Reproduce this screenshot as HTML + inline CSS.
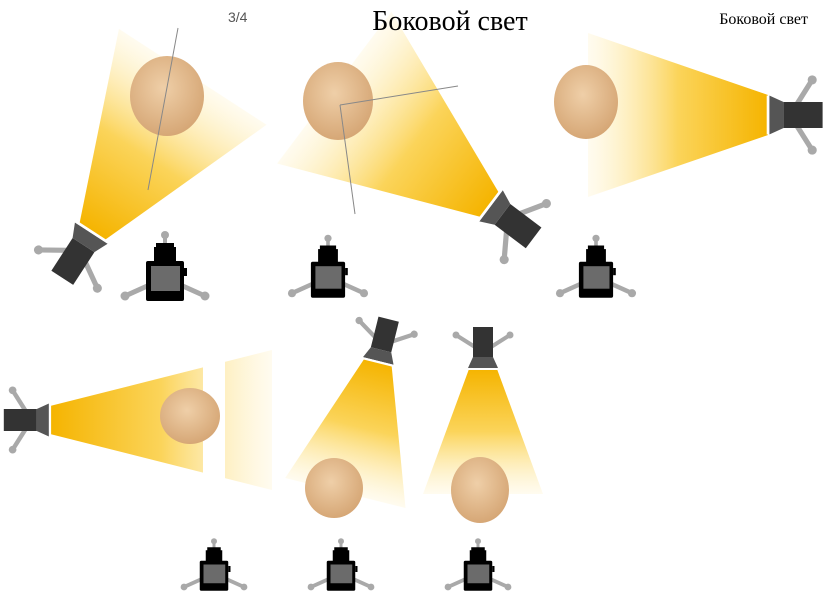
<!DOCTYPE html>
<html><head><meta charset="utf-8"><style>
html,body{margin:0;padding:0;background:#fff;}
svg{display:block}
</style></head><body>
<svg width="830" height="598" viewBox="0 0 830 598" xmlns="http://www.w3.org/2000/svg">
<defs>
<linearGradient id="beam" x1="0" y1="1" x2="0" y2="0">
<stop offset="0" stop-color="#f5b400"/>
<stop offset="0.5" stop-color="#fbd45a"/>
<stop offset="1" stop-color="#fff6d8" stop-opacity="0.4"/>
</linearGradient>
<radialGradient id="face" cx="0.45" cy="0.4" r="0.6">
<stop offset="0" stop-color="#efcfa8"/>
<stop offset="1" stop-color="#d6a776"/>
</radialGradient>
<g id="lamp">
<line x1="-8" y1="22" x2="-27" y2="34" stroke="#a9a9a9" stroke-width="4"/>
<line x1="8" y1="22" x2="27" y2="34" stroke="#a9a9a9" stroke-width="4"/>
<circle cx="-27" cy="34" r="3.5" fill="#a9a9a9"/>
<circle cx="27" cy="34" r="3.5" fill="#a9a9a9"/>
<rect x="-10" y="12" width="20" height="30" fill="#333"/>
<polygon points="-15,1 15,1 10,12 -10,12" fill="#555"/>
<rect x="-15" y="-1" width="30" height="2" fill="#fff"/>
</g>
<g id="cam">
<line x1="0" y1="0" x2="0" y2="-32" stroke="#a9a9a9" stroke-width="4"/>
<line x1="0" y1="10" x2="-40" y2="28" stroke="#a9a9a9" stroke-width="5"/>
<line x1="0" y1="10" x2="40" y2="28" stroke="#a9a9a9" stroke-width="5"/>
<circle cx="0" cy="-33" r="4" fill="#a9a9a9"/>
<circle cx="-40" cy="28" r="4.5" fill="#a9a9a9"/>
<circle cx="40" cy="28" r="4.5" fill="#a9a9a9"/>
<rect x="-11" y="-21" width="22" height="15" fill="#000"/>
<rect x="-9" y="-25" width="18" height="5" fill="#000"/>
<rect x="-19" y="-7" width="38" height="40" rx="2" fill="#000"/>
<rect x="19" y="0" width="3" height="8" fill="#000"/>
<rect x="-14" y="-2" width="29" height="25" fill="#6b6b6b"/>
</g>
</defs>

<!-- Scene 1 -->
<g transform="translate(92,232) rotate(33)">
<polygon points="-15,0 15,0 88,-185 -88,-185" fill="url(#beam)"/>
</g>
<ellipse cx="167" cy="96" rx="37" ry="40" fill="url(#face)"/>
<line x1="178" y1="28" x2="148" y2="190" stroke="#888" stroke-width="1"/>
<g transform="translate(92,232) rotate(33) scale(1.3)"><use href="#lamp"/></g>
<g transform="translate(165,268)"><use href="#cam"/></g>

<!-- Scene 2 -->
<g transform="translate(490,205) rotate(-53)">
<polygon points="-15,0 15,0 95,-195 -95,-195" fill="url(#beam)"/>
</g>
<ellipse cx="338" cy="101" rx="35" ry="39" fill="url(#face)"/>
<line x1="340" y1="105" x2="458" y2="86" stroke="#888" stroke-width="1"/>
<line x1="340" y1="105" x2="355" y2="214" stroke="#888" stroke-width="1"/>
<g transform="translate(490,205) rotate(-53) scale(1.3)"><use href="#lamp"/></g>
<g transform="translate(328,268) scale(0.9)"><use href="#cam"/></g>

<!-- Scene 3 -->
<g transform="translate(768,115) rotate(-90)">
<polygon points="-20,0 20,0 82,-180 -82,-180" fill="url(#beam)"/>
</g>
<ellipse cx="586" cy="102" rx="32" ry="37" fill="url(#face)"/>
<g transform="translate(768,115) rotate(-90) scale(1.3)"><use href="#lamp"/></g>
<g transform="translate(596,268) scale(0.9)"><use href="#cam"/></g>

<!-- Scene 4 -->
<g transform="translate(50,420) rotate(90)">
<polygon points="-14,0 14,0 70,-222 -70,-222" fill="url(#beam)"/>
</g>
<rect x="203" y="340" width="22" height="160" fill="#fff"/>
<ellipse cx="190" cy="416" rx="30" ry="28" fill="url(#face)"/>
<g transform="translate(50,420) rotate(90) scale(1.1)"><use href="#lamp"/></g>
<g transform="translate(214,566) scale(0.75)"><use href="#cam"/></g>

<!-- Scene 5 -->
<g transform="translate(378,362) rotate(194)">
<polygon points="-14,0 14,0 62,-135 -62,-135" fill="url(#beam)"/>
</g>
<ellipse cx="334" cy="488" rx="29" ry="30" fill="url(#face)"/>
<g transform="translate(378,362) rotate(194) scale(1.05)"><use href="#lamp"/></g>
<g transform="translate(341,566) scale(0.75)"><use href="#cam"/></g>

<!-- Scene 6 -->
<g transform="translate(483,369) rotate(180)">
<polygon points="-14,0 14,0 60,-125 -60,-125" fill="url(#beam)"/>
</g>
<ellipse cx="480" cy="490" rx="29" ry="33" fill="url(#face)"/>
<g transform="translate(483,369) rotate(180)"><use href="#lamp"/></g>
<g transform="translate(478,566) scale(0.75)"><use href="#cam"/></g>

<text x="228" y="22" font-family="Liberation Sans, sans-serif" font-size="14" fill="#555">3/4</text>
<text x="450" y="30" text-anchor="middle" font-family="Liberation Serif, DejaVu Serif, serif" font-size="28" fill="#000">Боковой свет</text>
<text x="808" y="24" text-anchor="end" font-family="Liberation Serif, DejaVu Serif, serif" font-size="16" fill="#000">Боковой свет</text>
</svg>
</body></html>
